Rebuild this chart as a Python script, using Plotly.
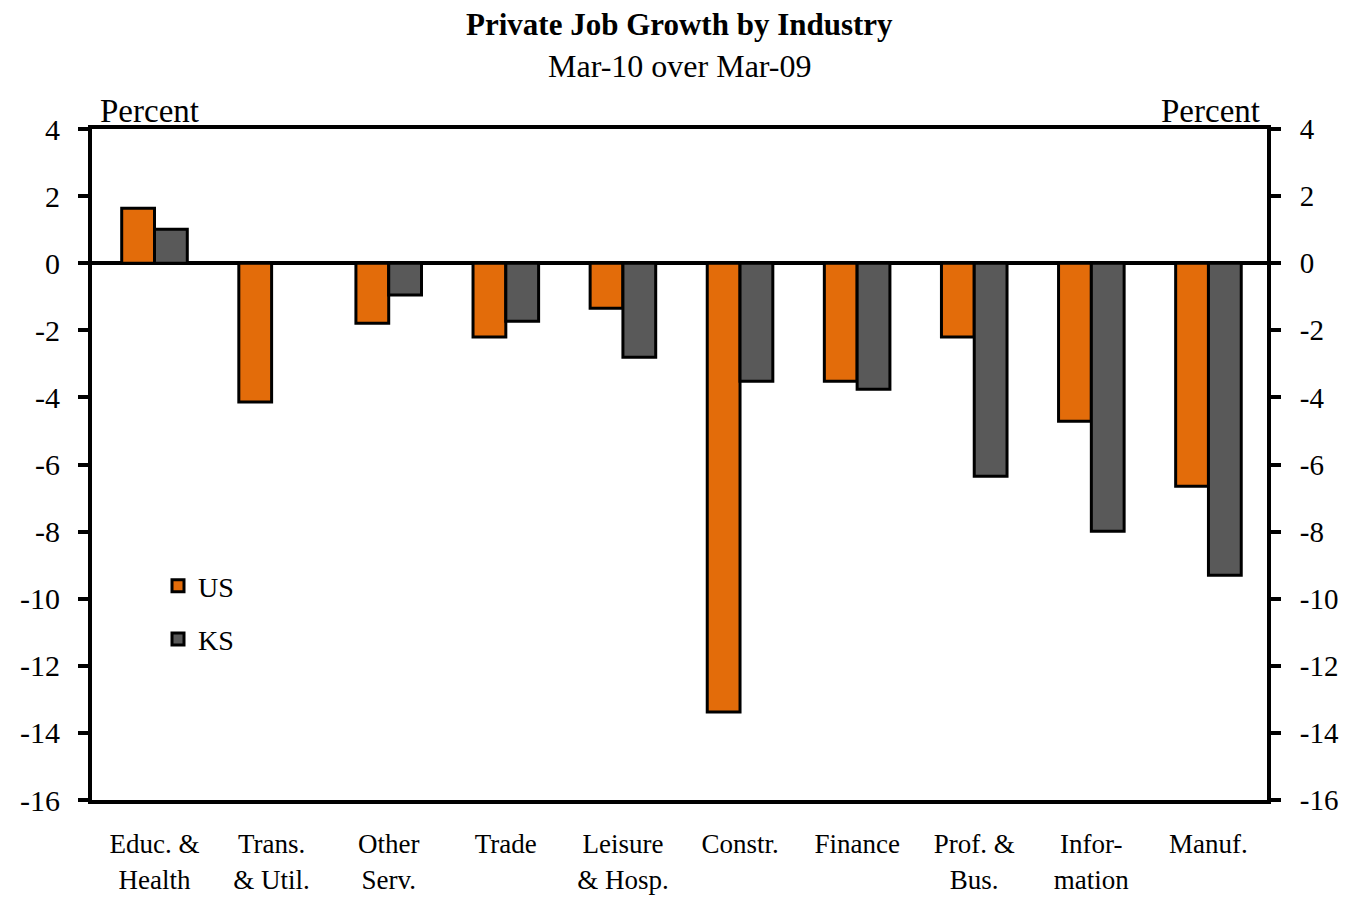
import plotly.graph_objects as go

categories = ['Educ. &<br>Health', 'Trans.<br>& Util.', 'Other<br>Serv.', 'Trade', 'Leisure<br>& Hosp.',
              'Constr.', 'Finance', 'Prof. &<br>Bus.', 'Infor-<br>mation', 'Manuf.']
us_values = [1.64, -4.14, -1.79, -2.2, -1.34, -13.38, -3.52, -2.2, -4.71, -6.65]
ks_values = [1.01, 0.0, -0.95, -1.73, -2.8, -3.52, -3.76, -6.35, -7.99, -9.3]
y_ticks = [4, 2, 0, -2, -4, -6, -8, -10, -12, -14, -16]
y_tick_text = [str(v) for v in y_ticks]  # plain hyphen, not unicode minus

FONT = 'Liberation Serif'

# page has an 8px body margin, so the figure is drawn 16px smaller than the window
W, H = 1333, 888
L, R, T, B = 84, 74, 121, 96
plot_w = W - L - R
plot_h = H - T - B


def py(page_y):
    return 1 + (T - (page_y - 8)) / plot_h


def px(page_x):
    return ((page_x - 8) - L) / plot_w


fig = go.Figure()
fig.add_trace(go.Bar(x=categories, y=us_values, name='US', legendgroup='us',
                     marker=dict(color='#E36C0A', line=dict(color='black', width=3))))
fig.add_trace(go.Bar(x=categories, y=ks_values, name='KS', legendgroup='ks',
                     marker=dict(color='#595959', line=dict(color='black', width=3))))
# invisible point so the right-hand axis is drawn
fig.add_trace(go.Scatter(x=[categories[0]], y=[0], yaxis='y2', mode='markers',
                         marker=dict(opacity=0), showlegend=False, hoverinfo='skip'))

axis_common = dict(range=[-16, 4], tickvals=y_ticks, ticktext=y_tick_text, showline=True,
                   linecolor='black', linewidth=4, ticks='outside', ticklen=10, tickwidth=4,
                   tickcolor='black', showgrid=False, automargin=False)

fig.update_layout(
    width=W, height=H,
    margin=dict(l=L, r=R, t=T, b=B),
    plot_bgcolor='white', paper_bgcolor='white',
    font=dict(family=FONT, size=30, color='black'),
    barmode='group', bargap=0.44, bargroupgap=0,
    legend=dict(x=px(158), y=py(561), xanchor='left', yanchor='top', bgcolor='rgba(0,0,0,0)',
                font=dict(size=28), tracegroupgap=14, itemwidth=30),
    xaxis=dict(showline=True, linecolor='black', linewidth=4, mirror=True, ticks='',
               showgrid=False, tickfont=dict(size=27), ticklabelstandoff=17, automargin=False),
    yaxis=dict(**axis_common, tickfont=dict(size=30), ticklabelstandoff=12,
               zeroline=True, zerolinecolor='black', zerolinewidth=4),
    yaxis2=dict(**axis_common, tickfont=dict(size=29), ticklabelstandoff=13,
                overlaying='y', side='right', zeroline=False),
    annotations=[
        dict(text='<b>Private Job Growth by Industry</b>', x=0.5, y=py(24), xref='paper', yref='paper',
             yanchor='middle', showarrow=False, font=dict(size=31)),
        dict(text='Mar-10 over Mar-09', x=0.5, y=py(66), xref='paper', yref='paper',
             yanchor='middle', showarrow=False, font=dict(size=32)),
        dict(text='Percent', x=px(98), y=py(111), xref='paper', yref='paper', xanchor='left',
             yanchor='middle', showarrow=False, font=dict(size=33)),
        dict(text='Percent', x=px(1262), y=py(111), xref='paper', yref='paper', xanchor='right',
             yanchor='middle', showarrow=False, font=dict(size=33)),
    ],
)

fig.write_html('out.html')
